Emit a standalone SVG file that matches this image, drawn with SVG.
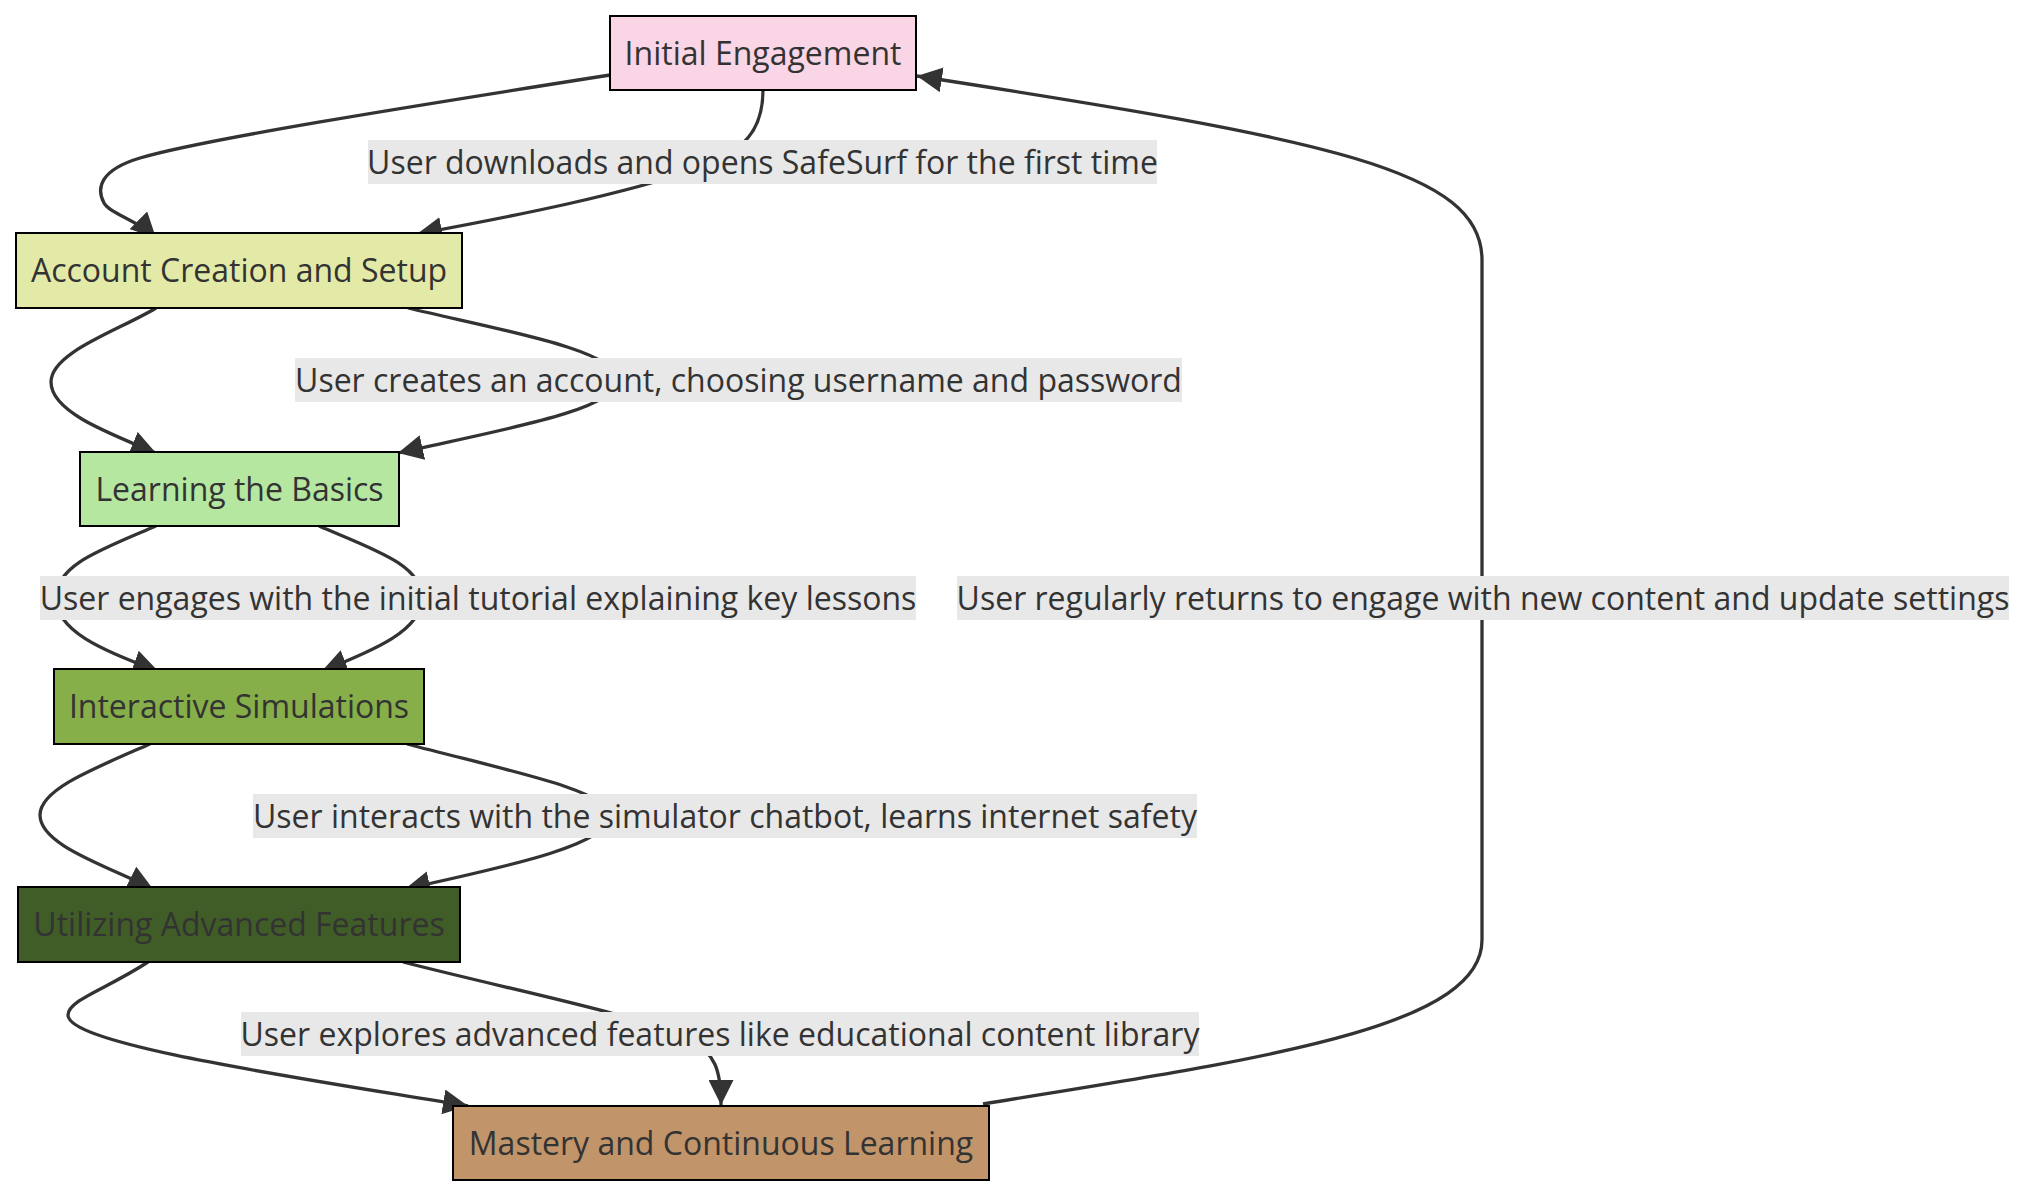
<svg xmlns="http://www.w3.org/2000/svg" width="2026" height="1196" viewBox="0 0 2026 1196">
<style>
.edge{fill:none;stroke:#333333;stroke-width:3.3;marker-end:url(#arrow)}
.lbl rect{fill:#e8e8e8}
text{font-family:"Open Sans","Noto Sans","DejaVu Sans",sans-serif;font-size:32px;fill:#333333;text-anchor:middle}
.node rect{stroke:#000000;stroke-width:2}
</style>
<defs>
<marker id="arrow" viewBox="0 0 10 10" refX="10" refY="5" markerUnits="userSpaceOnUse" markerWidth="25" markerHeight="25" orient="auto">
<path d="M0,0 L10,5 L0,10 z" fill="#333333"/>
</marker>
</defs>
<rect width="2026" height="1196" fill="#ffffff"/>
<g id="connectors">
<path class="edge" d="M610,75 C400,108 200,140 140,158 C100,170 96,188 104,203 C110,214 138,220 156,238"/>
<path class="edge" d="M763,90 C763,130 745,150 700,168 C620,195 520,215 417,234"/>
<path class="edge" d="M156,308 C120,330 51,352 51,382 C51,410 100,430 156,453"/>
<path class="edge" d="M408,308 C500,330 618,350 618,380 C618,410 500,430 398,453"/>
<path class="edge" d="M156,526 C100,550 56,565 56,598 C56,630 100,650 158,671"/>
<path class="edge" d="M319,526 C375,550 422,565 422,598 C422,630 375,650 322,671"/>
<path class="edge" d="M150,744 C90,770 40,790 40,815 C40,845 105,865 153,889"/>
<path class="edge" d="M407,744 C505,770 608,790 610,815 C612,845 500,868 405,889"/>
<path class="edge" d="M148,962 C105,990 68,1000 68,1015 C68,1045 300,1078 468,1106"/>
<path class="edge" d="M403,962 C520,992 640,1015 690,1040 C715,1053 721,1070 721,1105"/>
<path class="edge" d="M983,1104 C1250,1060 1482,1030 1482,940 L1482,260 C1482,170 1330,140 917,76"/>
</g>
<g id="edge-labels">
<g class="lbl"><rect x="368" y="140" width="789" height="44"/><text x="762.5" y="173.5">User downloads and opens SafeSurf for the first time</text></g>
<g class="lbl"><rect x="295" y="358" width="887" height="44"/><text x="738.5" y="391.5">User creates an account, choosing username and password</text></g>
<g class="lbl"><rect x="40" y="576" width="876" height="44"/><text x="478" y="609.5">User engages with the initial tutorial explaining key lessons</text></g>
<g class="lbl"><rect x="957" y="576" width="1052" height="44"/><text x="1483" y="609.5">User regularly returns to engage with new content and update settings</text></g>
<g class="lbl"><rect x="253" y="794" width="944" height="44"/><text x="725" y="827.5">User interacts with the simulator chatbot, learns internet safety</text></g>
<g class="lbl"><rect x="241" y="1012" width="958" height="44"/><text x="720" y="1045.5">User explores advanced features like educational content library</text></g>
</g>
<g id="node-initial" class="node"><rect x="610" y="16" width="306" height="74" fill="#f9d5e5"/><text x="763" y="64.5">Initial Engagement</text></g>
<g id="node-account" class="node"><rect x="16" y="233" width="446" height="75" fill="#e3eaa7"/><text x="239" y="282">Account Creation and Setup</text></g>
<g id="node-learning" class="node"><rect x="80" y="452" width="319" height="74" fill="#b5e7a0"/><text x="239.5" y="500.5">Learning the Basics</text></g>
<g id="node-interactive" class="node"><rect x="54" y="669" width="370" height="75" fill="#86af49"/><text x="239" y="718">Interactive Simulations</text></g>
<g id="node-advanced" class="node"><rect x="18" y="887" width="442" height="75" fill="#405d27"/><text x="239" y="936">Utilizing Advanced Features</text></g>
<g id="node-mastery" class="node"><rect x="453" y="1106" width="536" height="74" fill="#c1946a"/><text x="721" y="1154.5">Mastery and Continuous Learning</text></g>
</svg>
